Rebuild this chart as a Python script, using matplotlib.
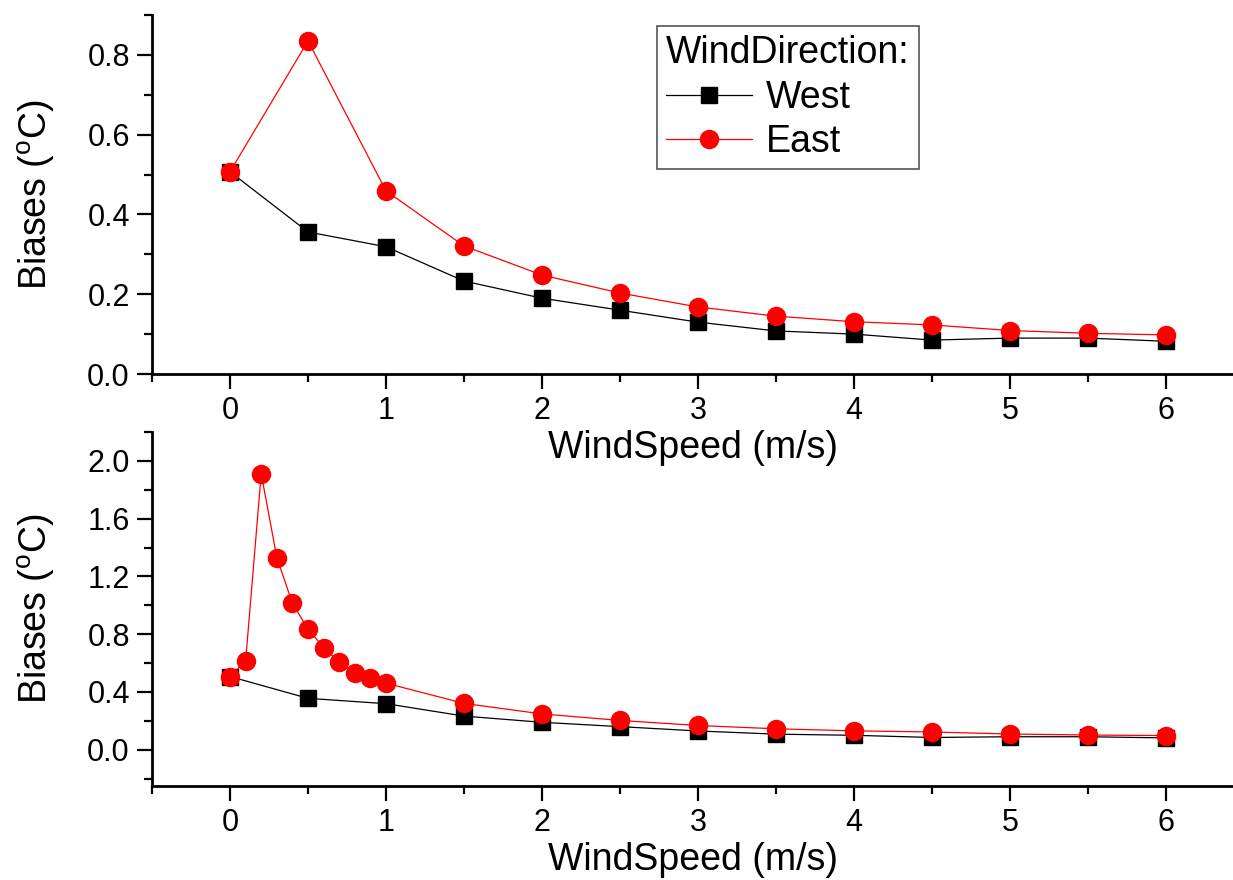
import matplotlib
matplotlib.use('Agg')
import matplotlib.pyplot as plt
from matplotlib.ticker import MultipleLocator

plt.rcParams['font.family'] = ['Liberation Sans', 'DejaVu Sans']

# wind speed (m/s)
speed = [0, 0.5, 1, 1.5, 2, 2.5, 3, 3.5, 4, 4.5, 5, 5.5, 6]
west = [0.507, 0.356, 0.319, 0.233, 0.19, 0.16, 0.13, 0.108, 0.1, 0.085, 0.09, 0.09, 0.082]
east = [0.507, 0.835, 0.459, 0.321, 0.248, 0.203, 0.168, 0.145, 0.131, 0.123, 0.109, 0.102, 0.098]

# finer steps below 1 m/s for the east case
speed_fine = [0, 0.1, 0.2, 0.3, 0.4, 0.5, 0.6, 0.7, 0.8, 0.9, 1, 1.5, 2, 2.5, 3, 3.5, 4, 4.5, 5, 5.5, 6]
east_fine = [0.507, 0.615, 1.912, 1.331, 1.014, 0.835, 0.708, 0.608, 0.534, 0.496, 0.461,
             0.321, 0.248, 0.203, 0.168, 0.145, 0.131, 0.123, 0.109, 0.102, 0.098]

fig = plt.figure(figsize=(12.33, 8.8), dpi=100)
ax2 = fig.add_axes([0.1233, 0.107, 0.8767, 0.402])
ax1 = fig.add_axes([0.1233, 0.575, 0.8767, 0.408])
ax1.patch.set_facecolor('none')
ax2.patch.set_facecolor('none')

def style(ax, ymin, ymax, major, minor):
    for s in ['top', 'right']:
        ax.spines[s].set_visible(False)
    for s in ['left', 'bottom']:
        ax.spines[s].set_linewidth(2)
    ax.set_xlim(-0.5, 6.43)
    ax.set_ylim(ymin, ymax)
    ax.xaxis.set_major_locator(MultipleLocator(1))
    ax.xaxis.set_minor_locator(MultipleLocator(0.5))
    ax.yaxis.set_major_locator(MultipleLocator(major))
    ax.yaxis.set_minor_locator(MultipleLocator(minor))
    ax.yaxis.set_major_formatter(plt.FormatStrFormatter('%.1f'))
    ax.tick_params(which='major', direction='out', length=11, width=1.6, labelsize=22, pad=5)
    ax.tick_params(which='minor', direction='out', length=6, width=1.6)
    ax.set_xlabel('WindSpeed (m/s)', fontsize=27, labelpad=3)
    ax.set_ylabel('Biases ($\\mathregular{^oC}$)', fontsize=27, labelpad=22)

ax1.plot(speed, west, color='black', lw=0.9, marker='s', ms=12, label='West')
ax1.plot(speed, east, color='red', lw=0.9, marker='o', ms=13, label='East')
style(ax1, 0, 0.9, 0.2, 0.1)

leg = ax1.legend(title='WindDirection:', loc='upper left', bbox_to_anchor=(0.467, 0.969),
                 borderaxespad=0, fontsize=27, title_fontsize=27, alignment='left',
                 fancybox=False, edgecolor='#555555', framealpha=1, handlelength=2.3,
                 borderpad=0.25, labelspacing=0.22, handletextpad=0.35)
leg.get_frame().set_linewidth(1.2)

ax2.plot(speed, west, color='black', lw=0.9, marker='s', ms=12)
ax2.plot(speed_fine, east_fine, color='red', lw=0.9, marker='o', ms=13)
style(ax2, -0.25, 2.2, 0.4, 0.2)

fig.savefig('out.png', dpi=100)
